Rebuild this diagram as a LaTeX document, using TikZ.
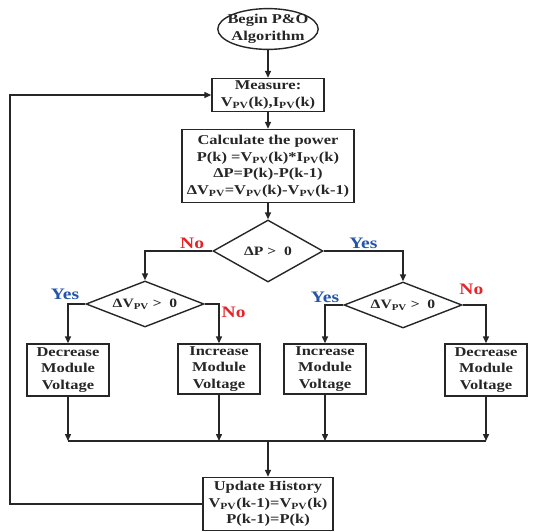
\documentclass[tikz,border=0pt]{standalone}
\usepackage{fontspec}
\setmainfont{Liberation Serif}[FakeStretch=1.22]
\usepackage{xcolor}
\usepackage{tikz}
\usetikzlibrary{shapes,arrows,positioning,calc,arrows.meta}
\definecolor{nored}{RGB}{230,35,40}
\definecolor{yesblue}{RGB}{35,85,170}
\newcommand{\pv}{\textsubscript{PV}}

\begin{document}
\begin{tikzpicture}[x=1pt,y=-1pt,
    >={Triangle[length=7pt,width=6pt]},
    line width=1.4pt, color=black!85,
    txt/.style={font=\bfseries\fontsize{13.5}{16.5}\selectfont, align=center},
    stepbox/.style={txt, draw, rectangle, inner sep=1pt},
    decision/.style={diamond, draw, aspect=2.5, inner sep=0pt,
        font=\bfseries\fontsize{12.8}{14}\selectfont,
        minimum width=118pt, minimum height=46pt},
    yes/.style={text=yesblue, font=\bfseries\fontsize{16}{18}\selectfont, inner sep=2pt},
    no/.style={text=nored, font=\bfseries\fontsize{16}{18}\selectfont, inner sep=2pt}]
    \useasboundingbox (0,0) rectangle (547,531);

    % Start and measurement
    \node[stepbox, ellipse, inner xsep=-5pt, inner ysep=0pt] (start) at (268,29) {Begin P\&O\\Algorithm};
    \node[stepbox, minimum width=112pt, minimum height=33pt] (measure) at (268,95) {Measure:\\V\pv(k),I\pv(k)};
    \node[stepbox, minimum width=172pt, minimum height=73pt] (power) at (268,166)
        {Calculate the power\\P(k) =V\pv(k)*I\pv(k)\\ΔP=P(k)-P(k-1)\\ΔV\pv=V\pv(k)-V\pv(k-1)};
    \draw[->] (start) -- (measure);
    \draw[->] (measure) -- (power);

    % Decisions
    \node[decision, minimum width=110pt, minimum height=62pt] (dp) at (268,251) {ΔP >\ \ 0};
    \node[decision] (dvl) at (145,304) {ΔV\pv\ >\ \ 0};
    \node[decision] (dvr) at (403,305) {ΔV\pv\ >\ \ 0};
    \draw[->] (power) -- (dp);
    \draw[->] (dp.west) -| node[no, pos=0.15, above] {No} (dvl.north);
    \draw[->] (dp.east) -| node[yes, pos=0.25, above] {Yes} (dvr.north);

    % Voltage steps
    \node[stepbox, minimum width=82pt, minimum height=52pt] (dec1) at (68,370) {Decrease\\Module\\Voltage};
    \node[stepbox, minimum width=82pt, minimum height=50pt] (inc1) at (219,369) {Increase\\Module\\Voltage};
    \node[stepbox, minimum width=82pt, minimum height=50pt] (inc2) at (325,369) {Increase\\Module\\Voltage};
    \node[stepbox, minimum width=82pt, minimum height=52pt] (dec2) at (486,370) {Decrease\\Module\\Voltage};
    \draw[->] (dvl.west) -| node[yes, pos=0.5, above, xshift=-3pt, yshift=2pt] {Yes} (dec1.north);
    \draw[->] (dvl.east) -| node[no, pos=0.5, below right] {No} (inc1.north);
    \draw[->] (dvr.west) -| node[yes, pos=0.5, above] {Yes} (inc2.north);
    \draw[->] (dvr.east) -| node[no, pos=0.5, above left, yshift=8pt] {No} (dec2.north);

    % Update and loop back
    \coordinate (join) at (268,441);
    \node[stepbox, minimum width=130pt, minimum height=53pt] (update) at (268,504)
        {Update History\\V\pv(k-1)=V\pv(k)\\P(k-1)=P(k)};
    \foreach \b in {dec1,inc1,inc2,dec2}
        \draw[->] (\b.south) -- (\b.south |- join);
    \draw (dec1.south |- join) -- (dec2.south |- join);
    \draw[->] (join) -- (update.north);
    \coordinate (loop) at (10,504);
    \draw[->] (update.west) -- (loop) |- (measure.west);
\end{tikzpicture}
\end{document}
